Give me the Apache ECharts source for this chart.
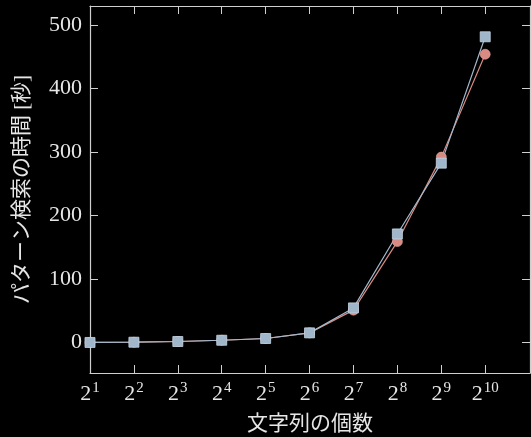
<!DOCTYPE html>
<html><head><meta charset="utf-8">
<script src="https://cdn.jsdelivr.net/npm/echarts@6/dist/echarts.min.js"></script>
<style>html,body{margin:0;padding:0;background:#000;}#c{width:531px;height:437px;}</style>
</head><body><div id="c"></div>
<script>
const exponents = [1,2,3,4,5,6,7,8,9,10];
const redValues = [0.1,0.5,1.6,3.6,6.3,15.2,51,159,292,454];
const blueValues = [0.1,0.5,1.6,3.6,6.3,15.2,54.5,171,282.5,481.5];
const yTicks = [0,100,200,300,400,500];
const xTitle = '文字列の個数';
const yTitle = 'パターン検索の時間 [秒]';

const fg = '#e6e6e6';
const serif = '"Liberation Serif", "DejaVu Serif", serif';
const cjk = '"Liberation Serif", "Noto Sans CJK JP", serif';

const chart = echarts.init(document.getElementById('c'));
const axisBase = {
  axisLine:{show:true,onZero:false,lineStyle:{color:'#cfcfcf',width:1.2}},
  axisTick:{show:true,inside:true,length:8,lineStyle:{color:'#cfcfcf',width:1}},
  splitLine:{show:false}
};
chart.setOption({
  backgroundColor:'#000',
  animation:false,
  grid:{left:90,top:6,right:1,bottom:64,containLabel:false,outerBoundsMode:'none'},
  xAxis:[
    Object.assign({}, axisBase, {
      type:'value', min:1, max:11.02, position:'bottom',
      axisTick:Object.assign({}, axisBase.axisTick, {customValues:exponents}),
      axisLabel:{customValues:exponents, margin:8, color:fg,
        formatter:v=>'{b|2}{s|'+v+'}',
        rich:{b:{fontFamily:serif,fontSize:22,color:fg,verticalAlign:'bottom',lineHeight:24},
              s:{fontFamily:serif,fontSize:15,color:fg,verticalAlign:'top',lineHeight:24,padding:[0,0,0,1]}}},
      name:xTitle, nameLocation:'middle', nameGap:41,
      nameTextStyle:{fontFamily:cjk,fontSize:21,color:fg}
    }),
    Object.assign({}, axisBase, {
      type:'value', min:1, max:11.02, position:'top',
      axisTick:Object.assign({}, axisBase.axisTick, {customValues:exponents}),
      axisLabel:{show:false}
    })
  ],
  yAxis:[
    Object.assign({}, axisBase, {
      type:'value', min:-48, max:530, position:'left',
      axisTick:Object.assign({}, axisBase.axisTick, {customValues:yTicks}),
      axisLabel:{customValues:yTicks, margin:8, color:fg, fontFamily:serif, fontSize:22},
      name:yTitle, nameLocation:'middle', nameGap:57, nameRotate:90,
      nameTextStyle:{fontFamily:cjk,fontSize:21,color:fg}
    }),
    Object.assign({}, axisBase, {
      type:'value', min:-48, max:530, position:'right',
      axisTick:Object.assign({}, axisBase.axisTick, {customValues:yTicks}),
      axisLabel:{show:false}
    })
  ],
  series:[
    {type:'line', data:exponents.map((e,i)=>[e,redValues[i]]), symbol:'circle', symbolSize:10,
     lineStyle:{color:'#d98a82',width:1.2}, itemStyle:{color:'#d98a82',borderColor:'#e8a8a0',borderWidth:0.6}},
    {type:'line', data:exponents.map((e,i)=>[e,blueValues[i]]), symbol:'rect', symbolSize:10,
     lineStyle:{color:'#a2b8cc',width:1.2}, itemStyle:{color:'#a0b6ca',borderColor:'#c4d4e2',borderWidth:0.8}}
  ]
});
</script></body></html>
